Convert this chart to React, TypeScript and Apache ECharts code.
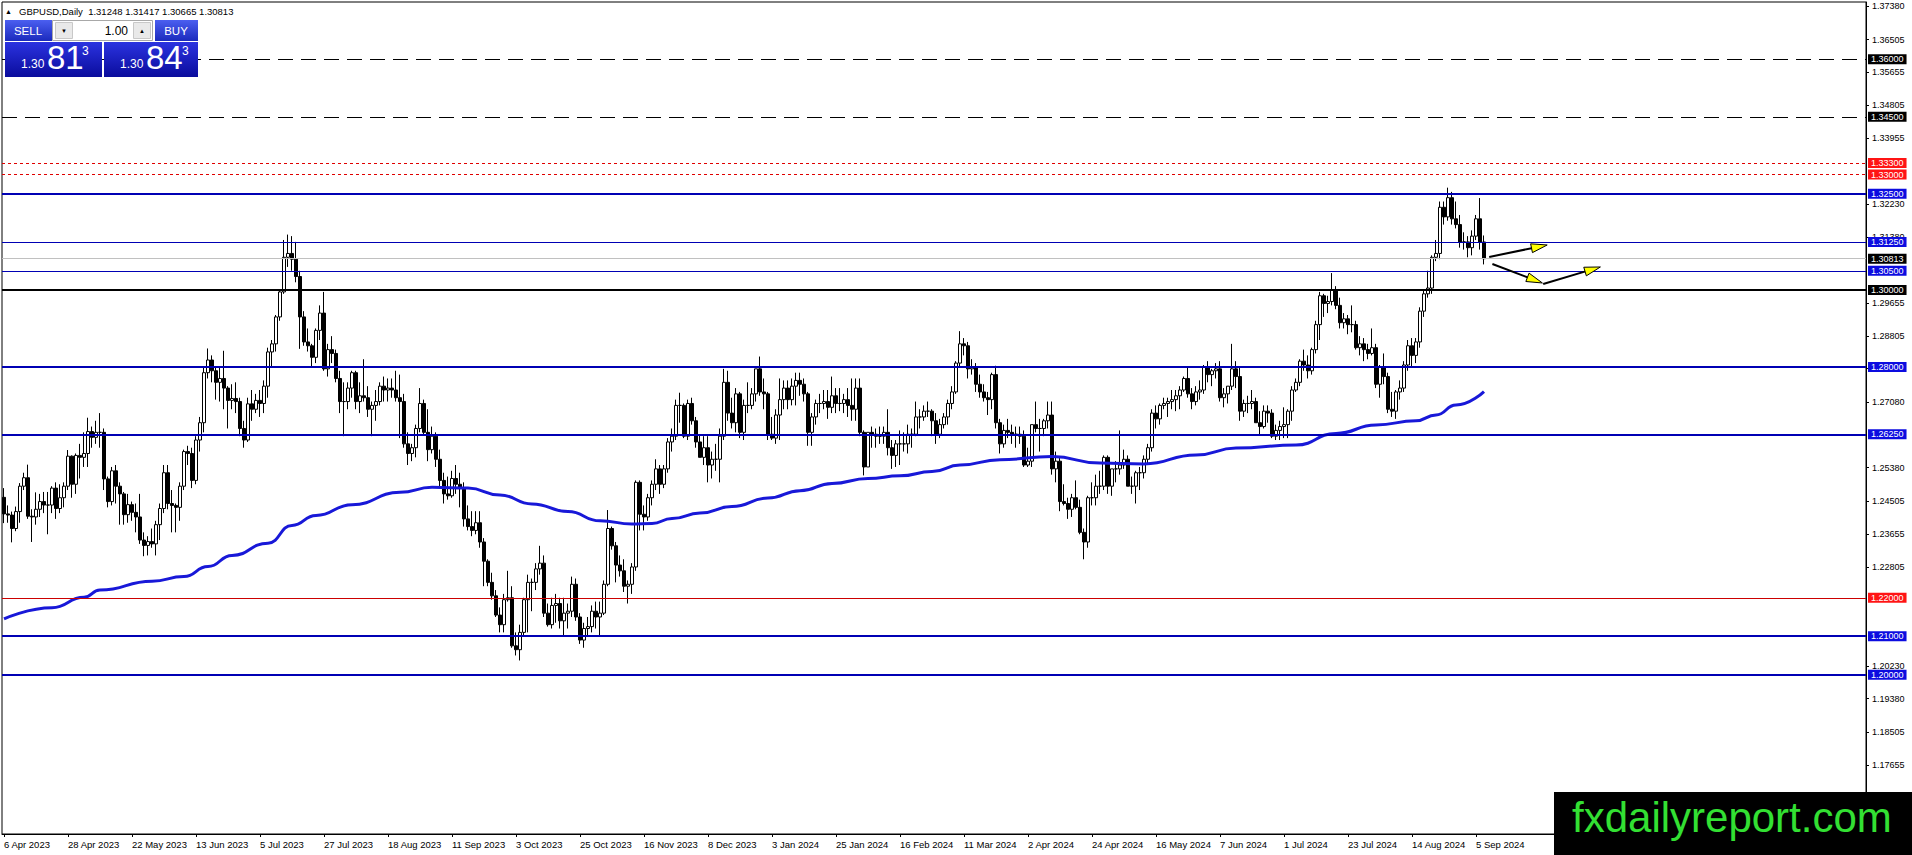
import { useEffect, useRef } from "react";
import * as echarts from "echarts";

const chartFont = '"Liberation Sans", Arial, sans-serif';

// visible price range of the window and number of bar slots (incl. empty right shift)
const priceMin = 1.15859;
const priceMax = 1.37486;
const slotCount = 466;
const labelStep = 16;

const dateLabels = [
  "6 Apr 2023", "28 Apr 2023", "22 May 2023", "13 Jun 2023", "5 Jul 2023", "27 Jul 2023",
  "18 Aug 2023", "11 Sep 2023", "3 Oct 2023", "25 Oct 2023", "16 Nov 2023", "8 Dec 2023",
  "3 Jan 2024", "25 Jan 2024", "16 Feb 2024", "11 Mar 2024", "2 Apr 2024", "24 Apr 2024",
  "16 May 2024", "7 Jun 2024", "1 Jul 2024", "23 Jul 2024", "14 Aug 2024", "5 Sep 2024",
];

const priceTicks = [
  1.3738, 1.36505, 1.35655, 1.34805, 1.33955, 1.3223, 1.3138, 1.29655, 1.28805, 1.27955,
  1.2708, 1.2538, 1.24505, 1.23655, 1.22805, 1.2023, 1.1938, 1.18505, 1.17655,
];

// daily bars: [open, high, low, close]
const candles = [
  [1.2461,1.2485,1.2394,1.2418],[1.2418,1.244,1.2395,1.2415],[1.2415,1.2424,1.2344,1.238],[1.238,1.2437,1.2373,1.2424],
  [1.2424,1.2498,1.2395,1.249],[1.249,1.2525,1.248,1.2512],[1.2512,1.2546,1.2405,1.2412],[1.2412,1.243,1.2345,1.241],
  [1.241,1.2474,1.239,1.243],[1.243,1.247,1.241,1.245],[1.245,1.2475,1.242,1.2441],[1.2441,1.2475,1.2365,1.2441],
  [1.2441,1.249,1.242,1.2485],[1.2485,1.25,1.2405,1.2432],[1.2432,1.2495,1.242,1.246],[1.246,1.25,1.2435,1.249],
  [1.249,1.2584,1.248,1.2568],[1.2568,1.257,1.246,1.2495],[1.2495,1.2575,1.247,1.257],[1.257,1.26,1.251,1.2565],
  [1.2565,1.263,1.254,1.2575],[1.2575,1.2668,1.254,1.2632],[1.2632,1.2645,1.259,1.2617],[1.2617,1.266,1.26,1.263],
  [1.263,1.268,1.259,1.263],[1.263,1.264,1.248,1.2509],[1.2509,1.2515,1.2435,1.245],[1.245,1.254,1.244,1.253],
  [1.253,1.2545,1.2445,1.249],[1.249,1.25,1.239,1.247],[1.247,1.2475,1.239,1.2416],[1.2416,1.247,1.2395,1.2442],
  [1.2442,1.245,1.24,1.2422],[1.2422,1.2445,1.237,1.241],[1.241,1.247,1.234,1.235],[1.235,1.237,1.2308,1.2336],
  [1.2336,1.236,1.231,1.2346],[1.2346,1.238,1.233,1.234],[1.234,1.24,1.231,1.239],[1.239,1.2445,1.235,1.2432],
  [1.2432,1.2545,1.242,1.2525],[1.2525,1.2545,1.243,1.2445],[1.2445,1.248,1.237,1.244],[1.244,1.2445,1.237,1.2435],
  [1.2435,1.25,1.24,1.249],[1.249,1.2585,1.248,1.258],[1.258,1.2595,1.2545,1.2575],[1.2575,1.259,1.2485,1.2505],
  [1.2505,1.262,1.2495,1.261],[1.261,1.267,1.258,1.2655],[1.2655,1.28,1.263,1.2785],[1.2785,1.2848,1.277,1.2818],
  [1.2818,1.283,1.276,1.279],[1.279,1.28,1.2715,1.276],[1.276,1.28,1.271,1.277],[1.277,1.2842,1.269,1.2745],
  [1.2745,1.275,1.264,1.2713],[1.2713,1.2755,1.269,1.2718],[1.2718,1.276,1.268,1.271],[1.271,1.272,1.262,1.264],
  [1.264,1.266,1.259,1.261],[1.261,1.272,1.2605,1.2704],[1.2704,1.274,1.266,1.269],[1.269,1.273,1.268,1.2713],
  [1.2713,1.274,1.267,1.2705],[1.2705,1.2765,1.268,1.275],[1.275,1.285,1.272,1.2839],[1.2839,1.287,1.28,1.286],
  [1.286,1.2935,1.284,1.293],[1.293,1.3,1.292,1.2995],[1.2995,1.313,1.299,1.3085],[1.3085,1.3144,1.306,1.3095],
  [1.3095,1.314,1.305,1.308],[1.308,1.3125,1.302,1.3035],[1.3035,1.305,1.2847,1.293],[1.293,1.2945,1.2855,1.2865],
  [1.2865,1.29,1.284,1.2855],[1.2855,1.286,1.28,1.2825],[1.2825,1.29,1.281,1.2895],[1.2895,1.296,1.287,1.294],
  [1.294,1.2995,1.279,1.2795],[1.2795,1.286,1.2775,1.2845],[1.2845,1.288,1.281,1.2835],[1.2835,1.2845,1.276,1.277],
  [1.277,1.279,1.268,1.271],[1.271,1.276,1.262,1.271],[1.271,1.276,1.269,1.2745],[1.2745,1.279,1.272,1.2785],
  [1.2785,1.279,1.269,1.271],[1.271,1.276,1.268,1.2725],[1.2725,1.282,1.271,1.272],[1.272,1.275,1.267,1.269],
  [1.269,1.271,1.262,1.27],[1.27,1.274,1.266,1.271],[1.271,1.276,1.27,1.275],[1.275,1.2775,1.271,1.274],
  [1.274,1.277,1.271,1.2745],[1.2745,1.277,1.272,1.274],[1.274,1.279,1.271,1.272],[1.272,1.278,1.2615,1.271],
  [1.271,1.273,1.259,1.26],[1.26,1.263,1.2545,1.2575],[1.2575,1.26,1.2555,1.259],[1.259,1.265,1.2565,1.264],
  [1.264,1.2745,1.263,1.2705],[1.2705,1.2715,1.2625,1.263],[1.263,1.269,1.2555,1.2585],[1.2585,1.2645,1.2575,1.262],
  [1.262,1.263,1.254,1.256],[1.256,1.2585,1.249,1.2505],[1.2505,1.2525,1.2445,1.247],[1.247,1.2515,1.2455,1.2465],
  [1.2465,1.253,1.246,1.251],[1.251,1.2545,1.247,1.2495],[1.2495,1.2525,1.2435,1.2485],[1.2485,1.25,1.2385,1.2405],
  [1.2405,1.244,1.2375,1.2385],[1.2385,1.2425,1.236,1.2375],[1.2375,1.2425,1.2365,1.2395],[1.2395,1.2425,1.233,1.2345],
  [1.2345,1.2355,1.223,1.2295],[1.2295,1.23,1.223,1.224],[1.224,1.2265,1.2195,1.2205],[1.2205,1.222,1.215,1.2155],
  [1.2155,1.2175,1.211,1.213],[1.213,1.221,1.211,1.2195],[1.2195,1.227,1.219,1.22],[1.22,1.223,1.207,1.2075],
  [1.2075,1.211,1.205,1.2065],[1.2065,1.213,1.2037,1.211],[1.211,1.22,1.21,1.2195],[1.2195,1.226,1.211,1.224],
  [1.224,1.225,1.2165,1.224],[1.224,1.229,1.222,1.2275],[1.2275,1.2335,1.226,1.229],[1.229,1.231,1.215,1.216],
  [1.216,1.2185,1.2125,1.213],[1.213,1.22,1.212,1.218],[1.218,1.221,1.2135,1.2185],[1.2185,1.22,1.212,1.214],
  [1.214,1.22,1.21,1.216],[1.216,1.2185,1.212,1.2165],[1.2165,1.2255,1.215,1.2235],[1.2235,1.225,1.214,1.215],
  [1.215,1.216,1.208,1.209],[1.209,1.2135,1.207,1.212],[1.212,1.215,1.21,1.2125],[1.2125,1.218,1.211,1.2165],
  [1.2165,1.219,1.212,1.215],[1.215,1.219,1.21,1.216],[1.216,1.2245,1.2155,1.2235],[1.2235,1.2428,1.223,1.238],
  [1.238,1.2385,1.2325,1.2335],[1.2335,1.2345,1.224,1.2285],[1.2285,1.231,1.2255,1.227],[1.227,1.23,1.2215,1.223],
  [1.223,1.2245,1.2185,1.2235],[1.2235,1.229,1.221,1.228],[1.228,1.2505,1.227,1.25],[1.25,1.2505,1.2375,1.2417],
  [1.2417,1.244,1.2375,1.241],[1.241,1.247,1.24,1.246],[1.246,1.2505,1.244,1.2495],[1.2495,1.256,1.248,1.2535],
  [1.2535,1.2545,1.247,1.2495],[1.2495,1.2545,1.2485,1.2535],[1.2535,1.2615,1.2525,1.2605],[1.2605,1.264,1.258,1.262],
  [1.262,1.2715,1.261,1.27],[1.27,1.2733,1.2655,1.27],[1.27,1.2705,1.2615,1.262],[1.262,1.2715,1.261,1.2705],
  [1.2705,1.272,1.265,1.266],[1.266,1.267,1.259,1.2605],[1.2605,1.2625,1.2565,1.2565],[1.2565,1.262,1.2545,1.259],
  [1.259,1.262,1.25,1.2545],[1.2545,1.258,1.251,1.256],[1.256,1.26,1.253,1.256],[1.256,1.264,1.25,1.262],
  [1.262,1.2795,1.261,1.276],[1.276,1.279,1.266,1.268],[1.268,1.272,1.264,1.2655],[1.2655,1.2745,1.263,1.273],
  [1.273,1.2735,1.2615,1.263],[1.263,1.2715,1.261,1.27],[1.27,1.276,1.268,1.27],[1.27,1.2745,1.269,1.273],
  [1.273,1.2795,1.271,1.2795],[1.2795,1.2827,1.2725,1.2735],[1.2735,1.277,1.269,1.273],[1.273,1.2735,1.261,1.2625],
  [1.2625,1.267,1.261,1.2615],[1.2615,1.269,1.26,1.2675],[1.2675,1.277,1.261,1.2715],[1.2715,1.2765,1.269,1.2745],
  [1.2745,1.2765,1.269,1.2715],[1.2715,1.277,1.27,1.275],[1.275,1.2785,1.27,1.2765],[1.2765,1.2785,1.2725,1.2755],
  [1.2755,1.277,1.271,1.273],[1.273,1.2735,1.2595,1.263],[1.263,1.268,1.2595,1.267],[1.267,1.2715,1.265,1.2705],
  [1.2705,1.273,1.268,1.2705],[1.2705,1.274,1.269,1.271],[1.271,1.274,1.2665,1.2695],[1.2695,1.2775,1.268,1.2725],
  [1.2725,1.2745,1.268,1.2705],[1.2705,1.2745,1.2685,1.2705],[1.2705,1.273,1.268,1.2715],[1.2715,1.2745,1.267,1.27],
  [1.27,1.277,1.266,1.269],[1.269,1.277,1.266,1.2745],[1.2745,1.277,1.262,1.263],[1.263,1.2635,1.2518,1.254],
  [1.254,1.263,1.254,1.263],[1.263,1.2645,1.259,1.2625],[1.2625,1.264,1.259,1.262],[1.262,1.2645,1.26,1.262],
  [1.262,1.2645,1.26,1.263],[1.263,1.269,1.257,1.259],[1.259,1.261,1.2535,1.257],[1.257,1.261,1.254,1.26],
  [1.26,1.2635,1.2545,1.26],[1.26,1.263,1.258,1.26],[1.26,1.265,1.2575,1.2625],[1.2625,1.264,1.259,1.2625],
  [1.2625,1.271,1.262,1.267],[1.267,1.269,1.264,1.267],[1.267,1.27,1.266,1.2685],[1.2685,1.271,1.267,1.2685],
  [1.2685,1.269,1.262,1.266],[1.266,1.268,1.26,1.2625],[1.2625,1.2665,1.2615,1.265],[1.265,1.268,1.264,1.267],
  [1.267,1.2715,1.265,1.2705],[1.2705,1.275,1.269,1.2735],[1.2735,1.2815,1.273,1.281],[1.281,1.2893,1.28,1.286],
  [1.286,1.2875,1.283,1.2855],[1.2855,1.2865,1.277,1.2795],[1.2795,1.282,1.278,1.28],[1.28,1.281,1.2735,1.2755],
  [1.2755,1.278,1.272,1.2735],[1.2735,1.2755,1.271,1.272],[1.272,1.2735,1.2675,1.2715],[1.2715,1.2785,1.269,1.278],
  [1.278,1.2803,1.264,1.2655],[1.2655,1.2665,1.2575,1.26],[1.26,1.265,1.259,1.2635],[1.2635,1.2665,1.2615,1.263],
  [1.263,1.265,1.26,1.2625],[1.2625,1.2645,1.259,1.2625],[1.2625,1.2645,1.26,1.262],[1.262,1.2635,1.254,1.2545],
  [1.2545,1.259,1.254,1.2555],[1.2555,1.265,1.254,1.265],[1.265,1.271,1.263,1.264],[1.264,1.2665,1.258,1.264],
  [1.264,1.2665,1.262,1.266],[1.266,1.271,1.264,1.2675],[1.2675,1.271,1.252,1.2535],[1.2535,1.258,1.25,1.2555],
  [1.2555,1.2565,1.2425,1.245],[1.245,1.2495,1.244,1.2445],[1.2445,1.246,1.2405,1.243],[1.243,1.247,1.241,1.246],
  [1.246,1.2505,1.243,1.2435],[1.2435,1.2455,1.2365,1.237],[1.237,1.238,1.23,1.2345],[1.2345,1.2465,1.233,1.246],
  [1.246,1.25,1.244,1.246],[1.246,1.252,1.244,1.249],[1.249,1.253,1.247,1.249],[1.249,1.257,1.248,1.2565],
  [1.2565,1.257,1.247,1.249],[1.249,1.2535,1.2465,1.2535],[1.2535,1.2555,1.25,1.2535],[1.2535,1.2635,1.252,1.2545],
  [1.2545,1.2585,1.2535,1.256],[1.256,1.257,1.249,1.249],[1.249,1.2515,1.247,1.249],[1.249,1.253,1.2445,1.2525],
  [1.2525,1.254,1.248,1.2525],[1.2525,1.257,1.251,1.256],[1.256,1.26,1.2545,1.259],[1.259,1.269,1.258,1.268],
  [1.268,1.27,1.264,1.2665],[1.2665,1.2705,1.265,1.27],[1.27,1.272,1.269,1.2705],[1.2705,1.272,1.267,1.271],
  [1.271,1.274,1.269,1.2715],[1.2715,1.274,1.2685,1.2725],[1.2725,1.275,1.269,1.274],[1.274,1.2775,1.2735,1.277],
  [1.277,1.28,1.272,1.273],[1.273,1.2745,1.269,1.271],[1.271,1.275,1.27,1.2735],[1.2735,1.2765,1.2715,1.274],
  [1.274,1.2805,1.273,1.28],[1.28,1.2815,1.276,1.278],[1.278,1.2795,1.275,1.279],[1.279,1.281,1.277,1.2795],
  [1.2795,1.2815,1.271,1.272],[1.272,1.2745,1.2695,1.273],[1.273,1.275,1.2705,1.275],[1.275,1.286,1.274,1.2795],
  [1.2795,1.2815,1.2745,1.2775],[1.2775,1.28,1.266,1.2685],[1.2685,1.2715,1.267,1.2705],[1.2705,1.2725,1.268,1.2705],
  [1.2705,1.274,1.269,1.271],[1.271,1.272,1.2655,1.2655],[1.2655,1.2685,1.2625,1.2645],[1.2645,1.27,1.264,1.2685],
  [1.2685,1.27,1.2655,1.268],[1.268,1.269,1.2615,1.262],[1.262,1.265,1.261,1.2635],[1.2635,1.266,1.261,1.2645],
  [1.2645,1.2695,1.2615,1.265],[1.265,1.269,1.2615,1.2685],[1.2685,1.275,1.266,1.274],[1.274,1.277,1.2735,1.276],
  [1.276,1.282,1.275,1.2815],[1.2815,1.2845,1.279,1.2805],[1.2805,1.283,1.277,1.279],[1.279,1.285,1.278,1.2845],
  [1.2845,1.292,1.2835,1.291],[1.291,1.2995,1.287,1.2985],[1.2985,1.299,1.293,1.2965],[1.2965,1.2985,1.294,1.297],
  [1.297,1.3044,1.296,1.3],[1.3,1.301,1.295,1.296],[1.296,1.298,1.29,1.2915],[1.2915,1.294,1.29,1.2925],
  [1.2925,1.2935,1.2885,1.291],[1.291,1.296,1.289,1.291],[1.291,1.292,1.2845,1.285],[1.285,1.288,1.283,1.286],
  [1.286,1.2875,1.2815,1.2845],[1.2845,1.286,1.282,1.2835],[1.2835,1.29,1.283,1.285],[1.285,1.286,1.2745,1.2755],
  [1.2755,1.2805,1.272,1.28],[1.28,1.2835,1.2755,1.2775],[1.2775,1.2785,1.268,1.269],[1.269,1.2735,1.267,1.2685],
  [1.2685,1.274,1.2665,1.2735],[1.2735,1.2765,1.2715,1.2745],[1.2745,1.2815,1.2735,1.2805],[1.2805,1.287,1.279,1.2855],
  [1.2855,1.2875,1.28,1.283],[1.283,1.2875,1.281,1.2865],[1.2865,1.2955,1.285,1.2945],[1.2945,1.3,1.293,1.299],
  [1.299,1.305,1.298,1.3005],[1.3005,1.309,1.299,1.3085],[1.3085,1.313,1.3075,1.3095],[1.3095,1.323,1.308,1.3215],
  [1.3215,1.323,1.317,1.319],[1.319,1.3266,1.318,1.324],[1.324,1.3255,1.317,1.3185],[1.3185,1.323,1.316,1.317],
  [1.317,1.3195,1.311,1.3125],[1.3125,1.315,1.3105,1.3125],[1.3125,1.314,1.3085,1.311],[1.311,1.3155,1.309,1.314],
  [1.314,1.3195,1.313,1.3185],[1.3185,1.3239,1.3105,1.3125],[1.31248,1.31417,1.30665,1.30813],
];

// 200-day moving average: [bar index, value]
const maPoints = [
  [0, 1.2145], [12, 1.2174], [20, 1.2201], [24, 1.222], [37, 1.2243], [45, 1.2255], [51, 1.2281],
  [57, 1.231], [66, 1.2342], [72, 1.2388], [78, 1.2414], [87, 1.2442], [99, 1.2474], [107, 1.2487],
  [116, 1.2485], [124, 1.2467], [132, 1.2444], [141, 1.2424], [149, 1.24], [157, 1.2392], [162, 1.2393],
  [167, 1.2406], [174, 1.242], [182, 1.2437], [191, 1.2459], [199, 1.2478], [207, 1.2497], [216, 1.251],
  [224, 1.2517], [232, 1.2528], [239, 1.2545], [249, 1.2559], [262, 1.2567], [274, 1.255], [285, 1.2548],
  [298, 1.2571], [308, 1.2589], [323, 1.2597], [333, 1.2627], [343, 1.2649], [353, 1.266], [358, 1.2675],
  [363, 1.2701], [370, 1.2736],
];

// horizontal levels drawn on the chart, grouped by how they are drawn
const dashedLevels = [1.36, 1.345];
const redDottedLevels = [1.333, 1.33];
const blueThickLevels = [1.325, 1.28, 1.2625, 1.21, 1.2];
const blueThinLevels = [1.3125, 1.305];
const blackLevels = [1.3];
const redThinLevels = [1.22];
const bidPrice = 1.30813;

// hand-drawn arrows: [from, to] as [bar index, price]
const arrowPaths = [
  [[371.3, 1.30858], [385.8, 1.3117]],
  [[372.1, 1.30676], [384.6, 1.30182]],
  [[384.8, 1.30156], [399.1, 1.30598]],
];

const quoteTitle = "GBPUSD,Daily  1.31248 1.31417 1.30665 1.30813";
const lotSize = "1.00";
const sellQuote = ["1.30", "81", "3"];
const buyQuote = ["1.30", "84", "3"];
const siteName = "fxdailyreport.com";

const levelLine = (value: number, color: string, width: number, type: any, boxColor: string) => ({
  yAxis: value,
  lineStyle: { color, width, type },
  label: {
    show: true,
    position: "end",
    distance: 2,
    formatter: value.toFixed(5),
    color: "#ffffff",
    backgroundColor: boxColor,
    padding: [1, 3, 0, 3],
    fontSize: 9,
    fontFamily: chartFont,
  },
});

const txt = (text: string, x: number, y: number, size: number, fill: string, align = "left", weight = "normal") => ({
  type: "text",
  z: 100,
  x,
  y,
  style: { text, fill, font: `${weight} ${size}px ${chartFont}`, align, verticalAlign: "middle" },
});

const box = (x: number, y: number, width: number, height: number, fill: any, stroke?: string) => ({
  type: "rect",
  z: 100,
  shape: { x, y, width, height },
  style: { fill, stroke: stroke ?? "none", lineWidth: 1 },
});

const buildPanel = () => {
  const btn = new echarts.graphic.LinearGradient(0, 0, 0, 1, [
    { offset: 0, color: "#4b5ff0" },
    { offset: 1, color: "#1b2abd" },
  ]);
  const priceBox = new echarts.graphic.LinearGradient(0, 0, 0, 1, [
    { offset: 0, color: "#2b33e0" },
    { offset: 1, color: "#0a0c9c" },
  ]);
  return [
    txt("▲", 5, 11, 7, "#000000"),
    txt(quoteTitle, 19, 11, 9.5, "#000000"),
    box(5, 20, 47, 21, btn),
    txt("SELL", 28, 30.5, 11.5, "#ffffff", "center"),
    box(52.5, 20.5, 100, 20, "#ffffff", "#a8a8a8"),
    box(55.5, 22.5, 17, 16, "#e9e9e9", "#c8c8c8"),
    txt("▼", 64, 30.5, 6, "#000000", "center"),
    txt(lotSize, 128, 30.5, 12, "#000000", "right"),
    box(133.5, 22.5, 17, 16, "#e9e9e9", "#c8c8c8"),
    txt("▲", 142, 30.5, 6, "#000000", "center"),
    box(155, 20, 43, 21, btn),
    txt("BUY", 176, 30.5, 11.5, "#ffffff", "center"),
    box(5, 42, 97, 35, priceBox),
    box(104, 42, 94, 35, priceBox),
    txt(sellQuote[0], 21, 64, 12, "#ffffff"),
    txt(sellQuote[1], 47, 57, 33, "#ffffff"),
    txt(sellQuote[2], 82, 51, 12, "#ffffff"),
    txt(buyQuote[0], 120, 64, 12, "#ffffff"),
    txt(buyQuote[1], 146, 57, 33, "#ffffff"),
    txt(buyQuote[2], 182, 51, 12, "#ffffff"),
    box(1554, 792, 358, 63, "#000000"),
    txt(siteName, 1572, 817, 42, "#33e033"),
  ];
};

const dataPx = (chart: echarts.ECharts, [idx, price]: number[]) => {
  const i0 = Math.floor(idx);
  const a = chart.convertToPixel({ gridIndex: 0 }, [i0, price]) as number[];
  const b = chart.convertToPixel({ gridIndex: 0 }, [i0 + 1, price]) as number[];
  return [a[0] + (b[0] - a[0]) * (idx - i0), a[1]];
};

const buildArrows = (chart: echarts.ECharts) =>
  arrowPaths.flatMap(([from, to]) => {
    const p0 = dataPx(chart, from);
    const p1 = dataPx(chart, to);
    const dx = p1[0] - p0[0];
    const dy = p1[1] - p0[1];
    const len = Math.hypot(dx, dy);
    const ux = dx / len;
    const uy = dy / len;
    const head = 16;
    const half = 4.5;
    const bx = p1[0] - ux * head;
    const by = p1[1] - uy * head;
    return [
      {
        type: "line",
        z: 90,
        shape: { x1: p0[0], y1: p0[1], x2: bx + ux * 4, y2: by + uy * 4 },
        style: { stroke: "#000000", lineWidth: 2 },
      },
      {
        type: "polygon",
        z: 91,
        shape: {
          points: [
            [p1[0], p1[1]],
            [bx - uy * half, by + ux * half],
            [bx + uy * half, by - ux * half],
          ],
        },
        style: { fill: "#ffff00", stroke: "#000000", lineWidth: 1 },
      },
    ];
  });

export default function App() {
  const chartRef = useRef<HTMLDivElement>(null);

  useEffect(() => {
    if (!chartRef.current) return;
    document.body.style.margin = "0";
    document.body.style.overflow = "hidden";
    const chart = echarts.init(chartRef.current, null, { renderer: "svg" });

    const categories = Array.from({ length: slotCount }, (_, i) => String(i));
    const showLabel = (index: number) => index % labelStep === 0 && index / labelStep < dateLabels.length;

    const marks = [
      ...dashedLevels.map((v) => levelLine(v, "#000000", 1, [15, 8], "#000000")),
      ...redDottedLevels.map((v) => levelLine(v, "#e00000", 1, [3, 3], "#ff1414")),
      ...blueThickLevels.map((v) => levelLine(v, "#0000b4", 2, "solid", "#0c0ce0")),
      ...blueThinLevels.map((v) => levelLine(v, "#0000b4", 1, "solid", "#0c0ce0")),
      ...blackLevels.map((v) => levelLine(v, "#000000", 2, "solid", "#000000")),
      ...redThinLevels.map((v) => levelLine(v, "#cc0000", 1, "solid", "#ff1414")),
      levelLine(bidPrice, "#c0c0c0", 1, "solid", "#000000"),
    ];

    const option: any = {
      animation: false,
      backgroundColor: "#ffffff",
      textStyle: { fontFamily: chartFont },
      grid: {
        left: 2,
        right: 46,
        top: 2,
        bottom: 21,
        show: true,
        borderColor: "#000000",
        borderWidth: 1,
        backgroundColor: "#ffffff",
      },
      xAxis: {
        type: "category",
        data: categories,
        boundaryGap: true,
        axisLine: { show: true, lineStyle: { color: "#000000", width: 1 } },
        axisTick: { show: true, alignWithLabel: true, interval: showLabel, length: 3, lineStyle: { color: "#000000" } },
        axisLabel: {
          interval: showLabel,
          formatter: (_v: string, index: number) => dateLabels[index / labelStep] ?? "",
          align: "left",
          color: "#000000",
          fontSize: 9.5,
          fontFamily: chartFont,
          margin: 5,
        },
        splitLine: { show: false },
      },
      yAxis: {
        type: "value",
        position: "right",
        min: priceMin,
        max: priceMax,
        scale: true,
        axisLine: { show: true, lineStyle: { color: "#000000", width: 1 } },
        axisTick: { show: true, customValues: priceTicks, length: 3, lineStyle: { color: "#000000" } },
        axisLabel: {
          customValues: priceTicks,
          formatter: (v: number) => v.toFixed(5),
          color: "#000000",
          fontSize: 9,
          fontFamily: chartFont,
          margin: 6,
        },
        splitLine: { show: false },
      },
      series: [
        {
          type: "candlestick",
          data: candles.map(([o, h, l, c]) => [o, c, l, h]),
          barWidth: 3,
          itemStyle: {
            color: "#ffffff",
            color0: "#000000",
            borderColor: "#000000",
            borderColor0: "#000000",
            borderWidth: 1,
          },
          markLine: {
            silent: true,
            precision: 5,
            symbol: ["none", "none"],
            animation: false,
            data: marks,
          },
        },
        {
          type: "line",
          data: maPoints,
          symbol: "none",
          smooth: true,
          smoothMonotone: "x",
          silent: true,
          lineStyle: { color: "#1818d8", width: 3 },
        },
      ],
    };

    chart.setOption(option);
    chart.setOption({ graphic: [...buildPanel(), ...buildArrows(chart)] });

    const handleResize = () => chart.resize();
    window.addEventListener("resize", handleResize);
    return () => {
      window.removeEventListener("resize", handleResize);
      chart.dispose();
    };
  }, []);

  return <div ref={chartRef} style={{ width: "1912px", height: "855px" }} />;
}
